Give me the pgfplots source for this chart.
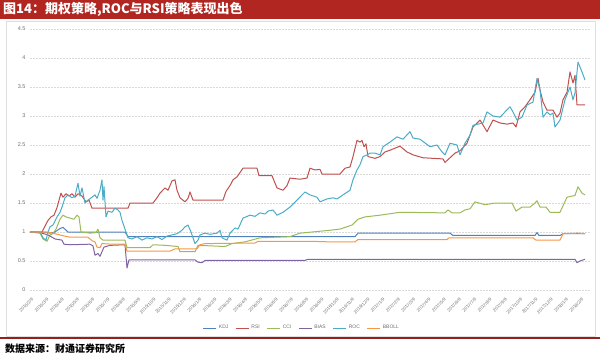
\documentclass[border=0pt]{standalone}
\usepackage{fontspec}
\setmainfont{Liberation Sans}
\newfontfamily\cjk{Noto Sans CJK SC}
\usepackage{pgfplots}
\pgfplotsset{compat=1.18}
\definecolor{kdj}{HTML}{4F81BD}
\definecolor{rsi}{HTML}{C0504D}
\definecolor{cci}{HTML}{9BBB59}
\definecolor{bias}{HTML}{8064A2}
\definecolor{roc}{HTML}{4BACC6}
\definecolor{bboll}{HTML}{F79646}
\definecolor{titlered}{RGB}{178,38,33}
\definecolor{tickgray}{RGB}{110,110,110}
\begin{document}
\begin{tikzpicture}[x=1pt,y=1pt]
\useasboundingbox (0,0) rectangle (600,356);
\coordinate (AX) at (30,66);
\fill[titlered] (0,337) rectangle (600,356);
\node[anchor=west, text=white, inner sep=0pt, font=\cjk\bfseries\fontsize{13}{14}\selectfont] at (3,346.5) {图14：期权策略,ROC与RSI策略表现出色};
\draw[gray!25] (6,20) rectangle (595,335);
\draw[titlered!85!black, line width=1.2pt] (0,18) -- (600,18);
\node[anchor=west, inner sep=0pt, font=\cjk\bfseries\fontsize{10}{12}\selectfont] at (5,7) {数据来源：财通证券研究所};
\begin{axis}[
  at={(AX)}, anchor=south west,
  scale only axis, width=560pt, height=261pt,
  xmin=30, xmax=590, ymin=0, ymax=4.5,
  axis line style={draw=none},
  major tick length=0pt,
  ytick={0,0.5,...,4.5},
  ymajorgrids,
  grid style={gray!30, dash pattern=on 1.5pt off 1.5pt},
  /pgf/number format/assume math mode=true,
  yticklabel style={font=\fontsize{5.5}{6}\selectfont, text=tickgray, xshift=-1pt},
  xtick={30,45.3,60.6,75.8,91.1,106.4,121.7,137.0,152.2,167.5,182.8,198.1,213.4,228.6,243.9,259.2,274.5,289.8,305.0,320.3,335.6,350.9,366.2,381.4,396.7,412.0,427.3,442.6,457.8,473.1,488.4,503.7,519.0,534.2,549.5,564.8,580.1},
  xticklabels={2015/2/9,2015/3/9,2015/4/9,2015/5/9,2015/6/9,2015/7/9,2015/8/9,2015/9/9,2015/10/9,2015/11/9,2015/12/9,2016/1/9,2016/2/9,2016/3/9,2016/4/9,2016/5/9,2016/6/9,2016/7/9,2016/8/9,2016/9/9,2016/10/9,2016/11/9,2016/12/9,2017/1/9,2017/2/9,2017/3/9,2017/4/9,2017/5/9,2017/6/9,2017/7/9,2017/8/9,2017/9/9,2017/10/9,2017/11/9,2017/12/9,2018/1/9,2018/2/9},
  xticklabel style={rotate=45, anchor=east, font=\fontsize{4.5}{5}\selectfont, text=tickgray, yshift=-8pt, xshift=-1pt},
  legend style={at={(axis description cs:0.4857,-0.1456)}, anchor=center, draw=none, fill=none, font=\fontsize{5}{6}\selectfont, text=tickgray, inner sep=0pt},
  legend columns=6,
  /tikz/every even column/.append style={column sep=5pt},
  legend image code/.code={\draw[#1] (0pt,0pt) -- (13pt,0pt);},
  every axis plot/.append style={line width=1pt, line join=round},
]
\draw[gray!30] (axis cs:30,0) -- (axis cs:590,0);
\addplot[kdj] coordinates {(30,1.00) (45,1.00) (50,0.98) (55,1.00) (60,1.06) (63,1.08) (68,1.00) (125,1.00) (128,0.92) (355,0.92) (358,0.98) (450,0.98) (453,0.94) (535,0.94) (537,0.99) (539,0.94) (560,0.94) (563,0.97) (585,0.97)};
\addlegendentry{KDJ}
\addplot[rsi] coordinates {(30,1.00) (42,1.00) (45,1.10) (48,1.20) (51,1.26) (54,1.29) (57,1.42) (61,1.67) (63,1.60) (66,1.66) (69,1.62) (72,1.66) (75,1.60) (78,1.66) (82,1.62) (86,1.52) (89,1.55) (92,1.41) (128,1.41) (130,1.50) (153,1.50) (157,1.59) (160,1.67) (165,1.76) (168,1.72) (172,1.88) (175,1.90) (177,1.72) (180,1.59) (185,1.52) (188,1.58) (190,1.69) (193,1.55) (223,1.55) (226,1.70) (230,1.80) (233,1.90) (237,1.95) (243,2.10) (257,2.10) (259,1.97) (272,1.97) (277,1.76) (283,1.72) (287,1.80) (290,1.93) (300,1.91) (307,1.93) (310,2.10) (315,2.07) (320,2.08) (322,2.00) (340,2.00) (345,2.10) (350,2.12) (353,2.30) (357,2.58) (360,2.55) (362,2.58) (364,2.47) (366,2.52) (368,2.30) (375,2.27) (380,2.30) (385,2.38) (390,2.41) (400,2.48) (407,2.38) (413,2.33) (423,2.28) (443,2.26) (445,2.20) (450,2.28) (455,2.36) (460,2.40) (467,2.53) (473,2.81) (480,2.93) (487,2.73) (493,2.93) (500,2.88) (507,2.86) (513,2.88) (516,2.81) (520,3.07) (525,3.16) (530,3.28) (535,3.41) (538,3.65) (540,3.45) (543,3.24) (547,3.10) (553,3.10) (557,2.98) (560,3.05) (563,3.28) (567,3.41) (570,3.76) (573,3.57) (575,3.70) (577,3.19) (585,3.19)};
\addlegendentry{RSI}
\addplot[cci] coordinates {(30,1.00) (40,0.98) (43,0.88) (47,0.84) (50,0.95) (53,0.97) (56,1.05) (60,1.22) (63,1.29) (66,1.26) (70,1.24) (74,1.22) (77,1.29) (79,1.26) (81,1.00) (90,0.98) (96,0.99) (98,1.05) (100,0.90) (103,0.86) (125,0.86) (127,0.73) (150,0.73) (153,0.78) (165,0.77) (178,0.75) (180,0.66) (195,0.66) (198,0.77) (225,0.75) (232,0.80) (245,0.83) (260,0.90) (290,0.92) (300,0.98) (330,1.03) (340,1.05) (352,1.12) (358,1.22) (365,1.26) (380,1.29) (400,1.34) (445,1.33) (448,1.38) (452,1.33) (460,1.33) (465,1.38) (470,1.40) (475,1.52) (485,1.47) (495,1.50) (512,1.50) (516,1.36) (522,1.43) (530,1.43) (535,1.50) (537,1.54) (540,1.43) (546,1.43) (550,1.34) (560,1.34) (567,1.60) (575,1.63) (578,1.78) (582,1.67) (585,1.64)};
\addlegendentry{CCI}
\addplot[bias] coordinates {(30,1.00) (40,0.99) (48,0.95) (55,0.88) (62,0.86) (64,0.79) (70,0.78) (90,0.79) (93,0.76) (95,0.60) (98,0.63) (100,0.58) (102,0.66) (104,0.74) (110,0.77) (125,0.78) (127,0.38) (129,0.52) (195,0.52) (198,0.48) (202,0.47) (205,0.51) (305,0.51) (308,0.53) (575,0.53) (577,0.47) (580,0.50) (585,0.53)};
\addlegendentry{BIAS}
\addplot[roc] coordinates {(30,1.00) (40,1.00) (43,0.90) (46,0.86) (48,1.00) (50,1.09) (53,1.12) (57,1.26) (60,1.34) (62,1.43) (65,1.59) (68,1.64) (72,1.59) (75,1.62) (78,1.84) (80,1.62) (82,1.76) (85,1.50) (88,1.55) (92,1.60) (95,1.64) (97,1.58) (100,1.72) (102,1.90) (103,1.55) (104,1.78) (106,1.26) (108,1.36) (112,1.34) (115,1.41) (118,1.38) (120,1.34) (122,1.20) (125,1.05) (128,0.90) (132,0.88) (137,0.92) (142,0.86) (147,0.90) (152,0.88) (157,0.92) (162,0.87) (167,0.93) (172,0.95) (177,0.97) (182,1.03) (185,1.09) (188,1.12) (191,1.00) (195,0.80) (198,0.86) (200,0.95) (205,0.98) (210,0.96) (217,0.98) (220,1.03) (222,0.90) (227,0.86) (230,0.98) (235,1.07) (238,1.05) (243,1.24) (250,1.29) (255,1.27) (260,1.33) (265,1.31) (268,1.36) (273,1.38) (277,1.29) (283,1.34) (290,1.43) (297,1.55) (305,1.69) (310,1.64) (317,1.60) (320,1.52) (327,1.57) (333,1.59) (337,1.57) (343,1.64) (350,1.72) (353,1.90) (357,2.07) (360,2.16) (363,2.30) (367,2.33) (370,2.36) (375,2.36) (380,2.33) (383,2.47) (390,2.55) (397,2.64) (403,2.60) (410,2.73) (413,2.62) (420,2.60) (430,2.47) (437,2.50) (442,2.38) (445,2.33) (450,2.53) (457,2.50) (460,2.33) (465,2.53) (470,2.67) (473,2.84) (478,2.86) (483,2.88) (487,3.07) (493,3.00) (500,2.98) (510,3.16) (513,3.07) (517,2.93) (522,2.98) (527,3.19) (533,3.24) (537,3.65) (540,3.45) (543,2.98) (547,3.07) (550,3.02) (553,3.05) (555,2.81) (560,2.93) (565,3.28) (570,3.50) (573,3.28) (575,3.40) (578,3.93) (582,3.76) (585,3.62)};
\addlegendentry{ROC}
\addplot[bboll] coordinates {(30,1.00) (48,1.00) (55,0.97) (62,0.94) (70,0.91) (88,0.91) (92,0.85) (95,0.83) (97,0.74) (100,0.73) (102,0.80) (112,0.79) (125,0.79) (127,0.67) (170,0.67) (175,0.71) (197,0.71) (200,0.78) (205,0.80) (255,0.81) (258,0.84) (310,0.84) (330,0.83) (345,0.83) (355,0.83) (358,0.87) (447,0.87) (449,0.90) (533,0.90) (536,0.86) (560,0.86) (563,0.97) (578,0.98) (585,0.97)};
\addlegendentry{BBOLL}
\end{axis}
\end{tikzpicture}
\end{document}
